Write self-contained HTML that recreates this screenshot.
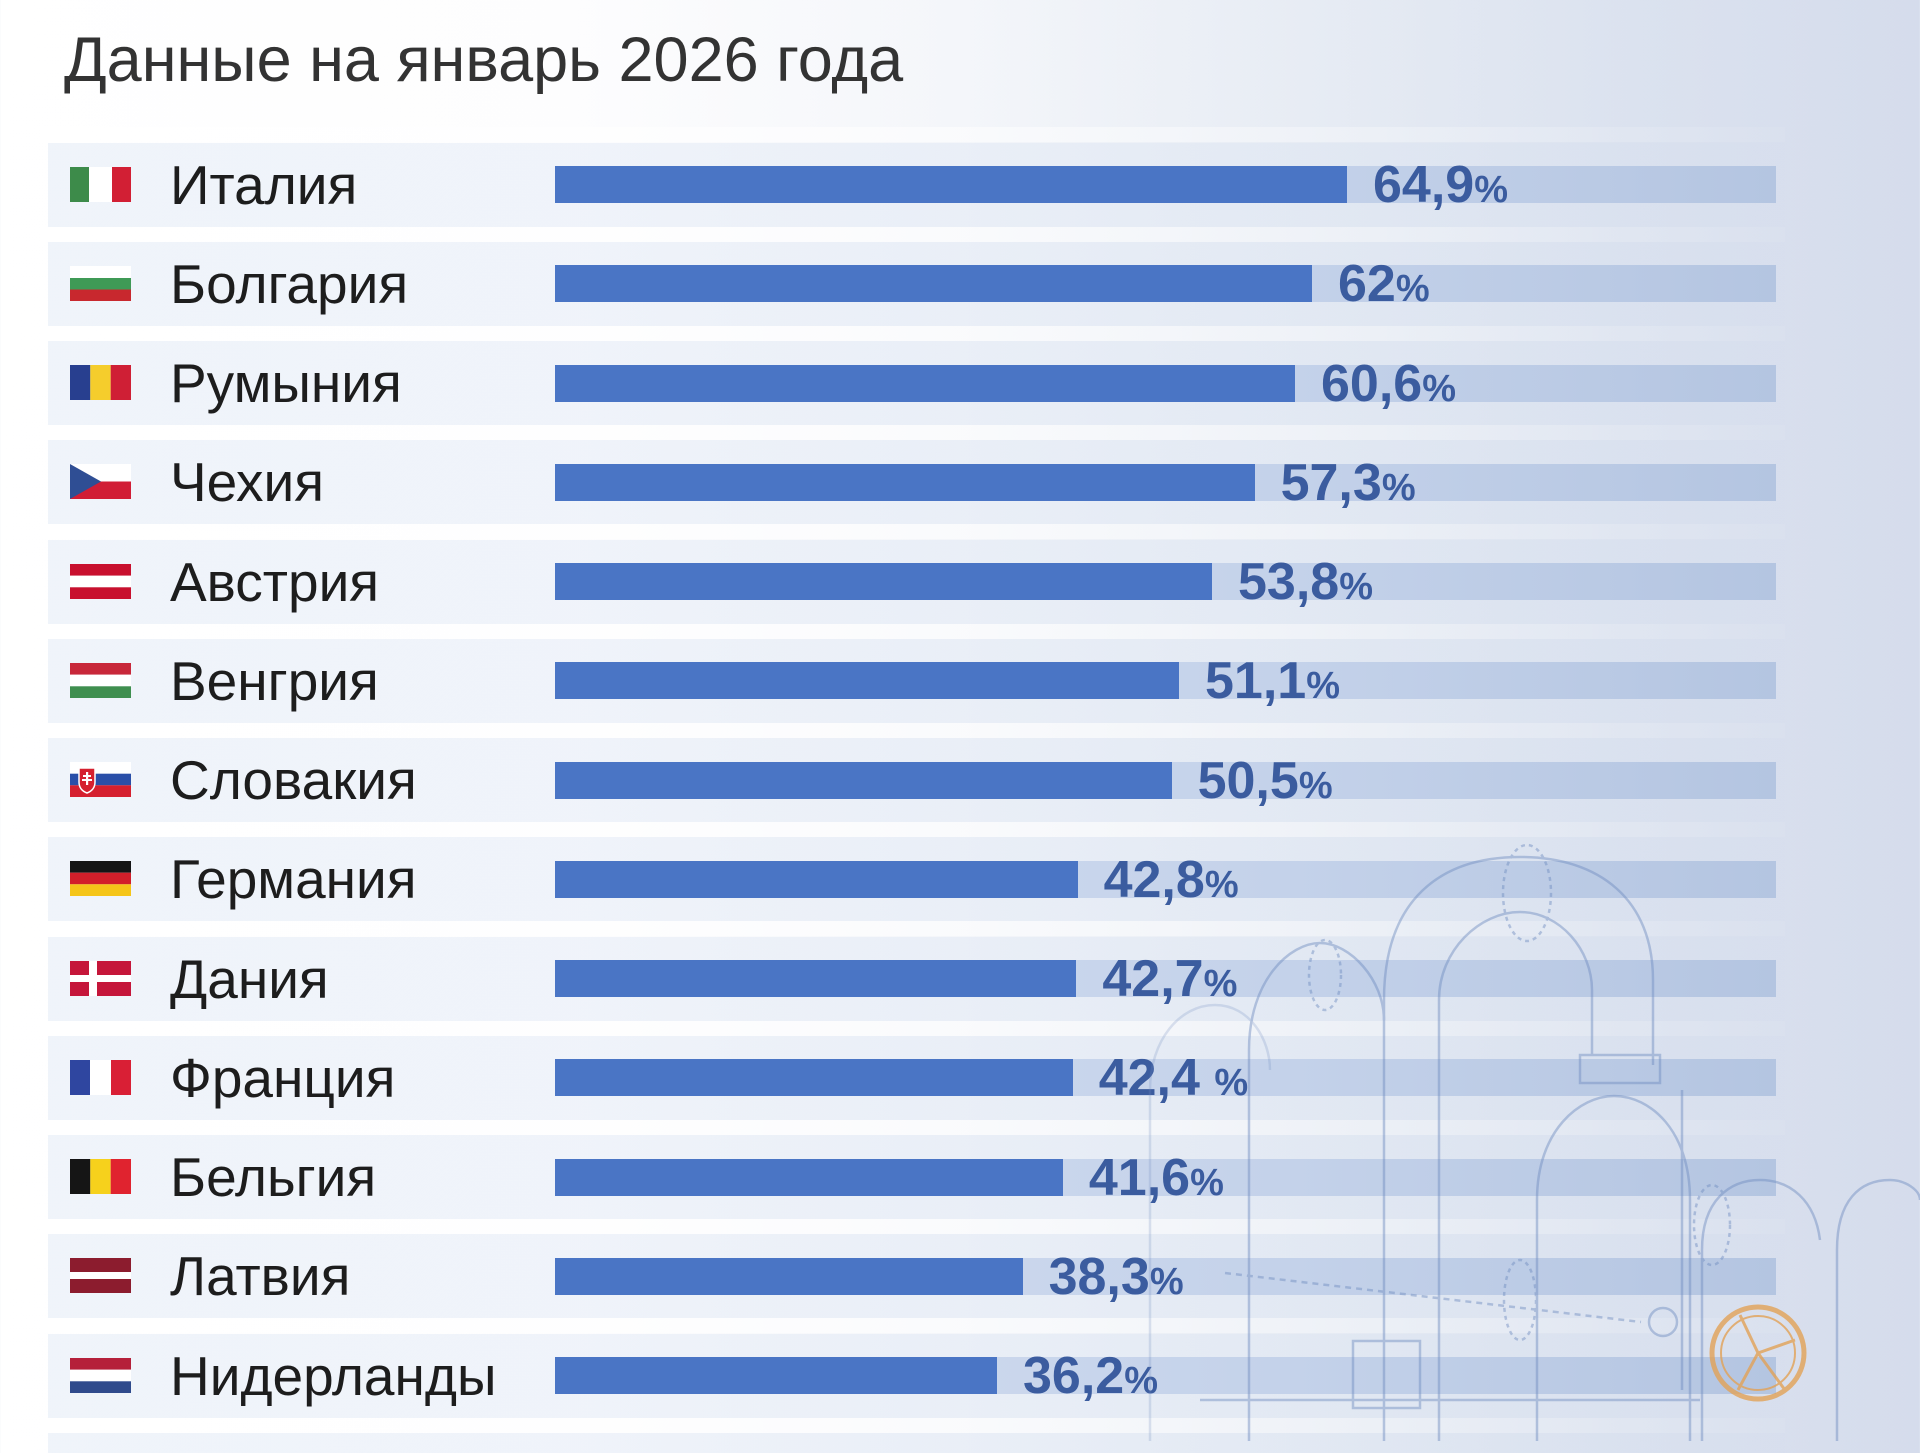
<!DOCTYPE html>
<html lang="ru">
<head>
<meta charset="utf-8">
<style>
html,body{margin:0;padding:0;}
body{width:1920px;height:1441px;overflow:hidden;position:relative;
background:linear-gradient(90deg,#ffffff 0%,#fdfdfe 30%,#f4f6fa 50%,#e7ecf4 68%,#dbe2ef 85%,#d5dcec 100%);
font-family:"Liberation Sans",Arial,sans-serif;}
.title{position:absolute;left:64px;top:29px;font-size:63px;line-height:63px;color:#333;white-space:nowrap;}
.gap{position:absolute;left:40px;width:1745px;height:15px;background:linear-gradient(90deg,rgba(255,255,255,0.75),rgba(255,255,255,0.55) 50%,rgba(255,255,255,0.2) 85%,rgba(255,255,255,0.05));}
.row{position:absolute;left:48px;width:1737px;height:84px;background:linear-gradient(90deg,rgba(190,208,235,0.24),rgba(190,208,235,0.2) 50%,rgba(190,208,235,0.08) 85%,rgba(190,208,235,0.02));}
.flag{position:absolute;left:22px;top:24px;width:61px;height:35px;}
.lab{position:absolute;left:122px;top:15px;font-size:55px;line-height:55px;color:#1d1d1d;white-space:nowrap;}
.track{position:absolute;left:507px;top:23.5px;width:1221px;height:37px;background:linear-gradient(90deg,#d4def0,#c4d2ea 60%,#b4c5e1);}
.bar{position:absolute;left:507px;top:23.5px;height:37px;background:#4a75c5;}
.val{position:absolute;top:16.5px;font-size:52px;line-height:52px;font-weight:bold;color:#3b5c9f;white-space:nowrap;}
.val span{font-size:38px;}
svg.art{position:absolute;left:0;top:0;}
</style>
</head>
<body>
<div class="title">Данные на январь 2026 года</div>

<div class="gap" style="top:127px"></div>
<div class="gap" style="top:226.5px"></div>
<div class="gap" style="top:325.75px"></div>
<div class="gap" style="top:425px"></div>
<div class="gap" style="top:524.25px"></div>
<div class="gap" style="top:623.5px"></div>
<div class="gap" style="top:722.75px"></div>
<div class="gap" style="top:822px"></div>
<div class="gap" style="top:921.25px"></div>
<div class="gap" style="top:1020.5px"></div>
<div class="gap" style="top:1119.75px"></div>
<div class="gap" style="top:1219px"></div>
<div class="gap" style="top:1318.25px"></div>
<div class="gap" style="top:1417.5px"></div>
<div class="row" style="top:1432.5px;height:20px"></div>

<!-- 1 Италия -->
<div class="row" style="top:142.5px">
<svg class="flag" viewBox="0 0 61 35"><rect x="0" y="0" width="19" height="35" fill="#3d8b4a"/><rect x="19" y="0" width="23" height="35" fill="#fff"/><rect x="42" y="0" width="19" height="35" fill="#d21f34"/></svg>
<div class="lab">Италия</div>
<div class="track"></div><div class="bar" style="width:792.4px"></div>
<div class="val" style="left:1325px">64,9<span>%</span></div>
</div>

<!-- 2 Болгария -->
<div class="row" style="top:241.75px">
<svg class="flag" viewBox="0 0 61 35"><rect x="0" y="0" width="61" height="12" fill="#fff"/><rect x="0" y="12" width="61" height="11.5" fill="#3f9a56"/><rect x="0" y="23.5" width="61" height="11.5" fill="#c8282e"/></svg>
<div class="lab">Болгария</div>
<div class="track"></div><div class="bar" style="width:757px"></div>
<div class="val" style="left:1290px">62<span>%</span></div>
</div>

<!-- 3 Румыния -->
<div class="row" style="top:341px">
<svg class="flag" viewBox="0 0 61 35"><rect x="0" y="0" width="20.3" height="35" fill="#283f8f"/><rect x="20.3" y="0" width="20.4" height="35" fill="#f5cd2c"/><rect x="40.7" y="0" width="20.3" height="35" fill="#cf1f35"/></svg>
<div class="lab">Румыния</div>
<div class="track"></div><div class="bar" style="width:739.9px"></div>
<div class="val" style="left:1273px">60,6<span>%</span></div>
</div>

<!-- 4 Чехия -->
<div class="row" style="top:440.25px">
<svg class="flag" viewBox="0 0 61 35"><rect x="0" y="0" width="61" height="17.5" fill="#fff"/><rect x="0" y="17.5" width="61" height="17.5" fill="#d11d35"/><polygon points="0,0 31,17.5 0,35" fill="#2f4e94"/></svg>
<div class="lab">Чехия</div>
<div class="track"></div><div class="bar" style="width:699.6px"></div>
<div class="val" style="left:1232.6px">57,3<span>%</span></div>
</div>

<!-- 5 Австрия -->
<div class="row" style="top:539.5px">
<svg class="flag" viewBox="0 0 61 35"><rect x="0" y="0" width="61" height="11.7" fill="#c8102e"/><rect x="0" y="11.7" width="61" height="11.6" fill="#fff"/><rect x="0" y="23.3" width="61" height="11.7" fill="#c8102e"/></svg>
<div class="lab">Австрия</div>
<div class="track"></div><div class="bar" style="width:656.9px"></div>
<div class="val" style="left:1190px">53,8<span>%</span></div>
</div>

<!-- 6 Венгрия -->
<div class="row" style="top:638.75px">
<svg class="flag" viewBox="0 0 61 35"><rect x="0" y="0" width="61" height="11.7" fill="#c8283a"/><rect x="0" y="11.7" width="61" height="11.6" fill="#fff"/><rect x="0" y="23.3" width="61" height="11.7" fill="#3f8f4f"/></svg>
<div class="lab">Венгрия</div>
<div class="track"></div><div class="bar" style="width:623.9px"></div>
<div class="val" style="left:1157px">51,1<span>%</span></div>
</div>

<!-- 7 Словакия -->
<div class="row" style="top:738px">
<svg class="flag" viewBox="0 0 61 35"><rect x="0" y="0" width="61" height="11.7" fill="#fff"/><rect x="0" y="11.7" width="61" height="11.6" fill="#2a4fa8"/><rect x="0" y="23.3" width="61" height="11.7" fill="#d5202f"/><path d="M9 6 H25 V20 Q25 28 17 31 Q9 28 9 20 Z" fill="#d5202f" stroke="#fff" stroke-width="1.5"/><rect x="16" y="10" width="2.2" height="13" fill="#fff"/><rect x="13" y="13" width="8" height="2" fill="#fff"/><rect x="12" y="17" width="10" height="2" fill="#fff"/></svg>
<div class="lab">Словакия</div>
<div class="track"></div><div class="bar" style="width:616.6px"></div>
<div class="val" style="left:1149.6px">50,5<span>%</span></div>
</div>

<!-- 8 Германия -->
<div class="row" style="top:837.25px">
<svg class="flag" viewBox="0 0 61 35"><rect x="0" y="0" width="61" height="11.7" fill="#151515"/><rect x="0" y="11.7" width="61" height="11.6" fill="#d21f2a"/><rect x="0" y="23.3" width="61" height="11.7" fill="#f5c518"/></svg>
<div class="lab">Германия</div>
<div class="track"></div><div class="bar" style="width:522.6px"></div>
<div class="val" style="left:1055.6px">42,8<span>%</span></div>
</div>

<!-- 9 Дания -->
<div class="row" style="top:936.5px">
<svg class="flag" viewBox="0 0 61 35"><rect x="0" y="0" width="61" height="35" fill="#c5163a"/><rect x="19" y="0" width="8" height="35" fill="#fff"/><rect x="0" y="14" width="61" height="7" fill="#fff"/></svg>
<div class="lab">Дания</div>
<div class="track"></div><div class="bar" style="width:521.4px"></div>
<div class="val" style="left:1054.4px">42,7<span>%</span></div>
</div>

<!-- 10 Франция -->
<div class="row" style="top:1035.75px">
<svg class="flag" viewBox="0 0 61 35"><rect x="0" y="0" width="20" height="35" fill="#2f46a0"/><rect x="20" y="0" width="21" height="35" fill="#fff"/><rect x="41" y="0" width="20" height="35" fill="#d91f35"/></svg>
<div class="lab">Франция</div>
<div class="track"></div><div class="bar" style="width:517.7px"></div>
<div class="val" style="left:1050.7px">42,4 <span>%</span></div>
</div>

<!-- 11 Бельгия -->
<div class="row" style="top:1135px">
<svg class="flag" viewBox="0 0 61 35"><rect x="0" y="0" width="20.3" height="35" fill="#151515"/><rect x="20.3" y="0" width="20.4" height="35" fill="#f6d11c"/><rect x="40.7" y="0" width="20.3" height="35" fill="#e0232f"/></svg>
<div class="lab">Бельгия</div>
<div class="track"></div><div class="bar" style="width:507.9px"></div>
<div class="val" style="left:1040.9px">41,6<span>%</span></div>
</div>

<!-- 12 Латвия -->
<div class="row" style="top:1234.25px">
<svg class="flag" viewBox="0 0 61 35"><rect x="0" y="0" width="61" height="14" fill="#8c1c2e"/><rect x="0" y="14" width="61" height="7" fill="#fff"/><rect x="0" y="21" width="61" height="14" fill="#8c1c2e"/></svg>
<div class="lab">Латвия</div>
<div class="track"></div><div class="bar" style="width:467.6px"></div>
<div class="val" style="left:1000.6px">38,3<span>%</span></div>
</div>

<!-- 13 Нидерланды -->
<div class="row" style="top:1333.5px">
<svg class="flag" viewBox="0 0 61 35"><rect x="0" y="0" width="61" height="11.7" fill="#b5203a"/><rect x="0" y="11.7" width="61" height="11.6" fill="#fff"/><rect x="0" y="23.3" width="61" height="11.7" fill="#2f4a8c"/></svg>
<div class="lab">Нидерланды</div>
<div class="track"></div><div class="bar" style="width:442px"></div>
<div class="val" style="left:975px">36,2<span>%</span></div>
</div>

<!-- faint pipeline line-art -->
<svg class="art" width="1920" height="1441" viewBox="0 0 1920 1441">
<g fill="none" stroke="#6f8cc0" stroke-width="2.5" opacity="0.45">
<path d="M1384 1441 V1000 C1384 900 1440 857 1520 857 C1600 857 1653 900 1653 980 V1065"/>
<path d="M1439 1441 V1000 C1439 950 1480 912 1520 912 C1560 912 1592 950 1592 990 V1055"/>
<ellipse cx="1527" cy="893" rx="24" ry="48" stroke-dasharray="4 4"/>
<rect x="1580" y="1055" width="80" height="28"/>
<path d="M1537 1441 V1200 C1537 1130 1580 1096 1614 1096 C1650 1096 1690 1130 1690 1200 V1441"/>
<path d="M1682 1090 V1390"/>
<path d="M1249 1441 V1050 C1249 980 1290 943 1320 943 C1350 943 1384 980 1384 1020"/>
<ellipse cx="1325" cy="975" rx="16" ry="35" stroke-dasharray="4 4"/>
<path d="M1702 1441 V1250 C1702 1200 1730 1180 1760 1180 C1790 1180 1815 1200 1820 1240"/>
<path d="M1837 1441 V1250 C1837 1200 1860 1180 1890 1180 C1905 1180 1920 1190 1920 1200"/>
<ellipse cx="1712" cy="1225" rx="18" ry="40" stroke-dasharray="4 4"/>
<ellipse cx="1520" cy="1300" rx="16" ry="40" stroke-dasharray="4 4"/>
<path d="M1225 1273 L1641 1322" stroke-dasharray="6 5"/>
<rect x="1353" y="1341" width="67" height="67"/>
<circle cx="1663" cy="1322" r="14"/>
<path d="M1150 1441 V1090 C1150 1040 1180 1005 1215 1005 C1250 1005 1270 1040 1270 1070" opacity="0.5"/>
<path d="M1200 1400 H1700"/>
</g>
<g fill="none" stroke="#e2a257" opacity="0.8">
<circle cx="1758" cy="1353" r="46" stroke-width="5"/>
<circle cx="1758" cy="1353" r="37" stroke-width="2"/>
<path d="M1758 1353 L1740 1315 M1758 1353 L1795 1340 M1758 1353 L1738 1390 M1758 1353 L1785 1390" stroke-width="3"/>
</g>
</svg>
</body>
</html>
